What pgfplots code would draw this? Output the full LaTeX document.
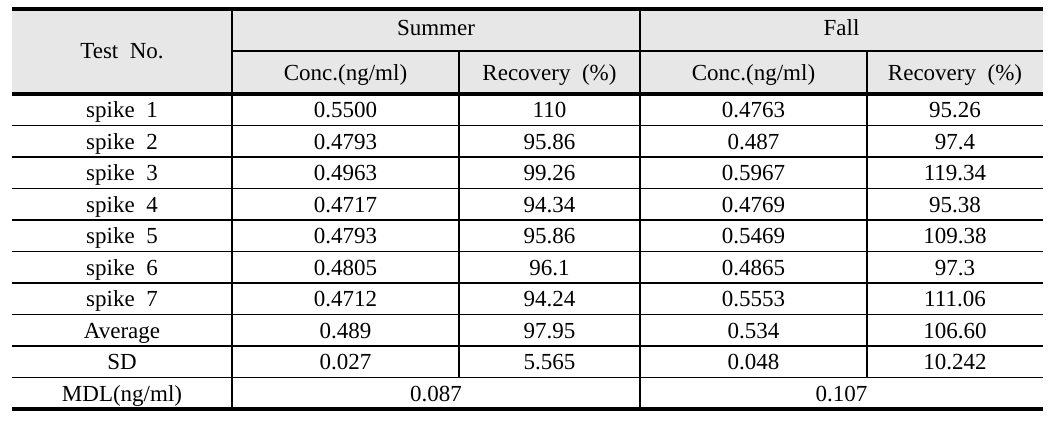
\documentclass[border=0pt]{standalone}
\usepackage{fontspec}
\setmainfont{Liberation Serif}
\usepackage{pgfplots}
\pgfplotsset{compat=1.18}
\definecolor{hdr}{RGB}{231,231,231}
\protected\def\gap{\hspace{0.5em}}
\begin{document}
\begin{tikzpicture}
\begin{axis}[
  x=1pt, y=1pt, y dir=reverse,
  xmin=0, xmax=1060, ymin=0, ymax=423,
  hide axis, clip=false,
  point meta=explicit symbolic,
  nodes near coords,
  every node near coord/.style={anchor=base, font=\fontsize{23}{27}\selectfont, inner sep=0pt, text=black},
]
\path (axis cs:0,0) rectangle (axis cs:1060,423);
% header fill
\fill[hdr] (axis cs:12,9) rectangle (axis cs:1043,94);
% thin lines
\draw[line width=1.2pt] (axis cs:232,51) -- (axis cs:1043,51);
\draw[line width=1.2pt] (axis cs:12,125.5) -- (axis cs:1043,125.5);
\draw[line width=1.2pt] (axis cs:12,157) -- (axis cs:1043,157);
\draw[line width=1.2pt] (axis cs:12,188.5) -- (axis cs:1043,188.5);
\draw[line width=1.2pt] (axis cs:12,220) -- (axis cs:1043,220);
\draw[line width=1.2pt] (axis cs:12,251.5) -- (axis cs:1043,251.5);
\draw[line width=1.2pt] (axis cs:12,283) -- (axis cs:1043,283);
\draw[line width=1.2pt] (axis cs:12,314.5) -- (axis cs:1043,314.5);
\draw[line width=1.2pt] (axis cs:12,346) -- (axis cs:1043,346);
\draw[line width=1.2pt] (axis cs:12,377.5) -- (axis cs:1043,377.5);
\draw[line width=1.2pt] (axis cs:232,9) -- (axis cs:232,409);
\draw[line width=1.2pt] (axis cs:640,9) -- (axis cs:640,409);
\draw[line width=1.2pt] (axis cs:459,51) -- (axis cs:459,377.5);
\draw[line width=1.2pt] (axis cs:867,51) -- (axis cs:867,377.5);
% thick rules
\draw[line width=3.6pt] (axis cs:12,9) -- (axis cs:1043,9);
\draw[line width=3.6pt] (axis cs:12,94) -- (axis cs:1043,94);
\draw[line width=3.6pt] (axis cs:12,409) -- (axis cs:1043,409);

\addplot[draw=none, mark=none] table[x=x, y=y, meta=t] {
x y t
122 58 {Test\gap No.}
436 35.5 Summer
841.5 35.5 Fall
345.5 80 {Conc.(ng/ml)}
549.5 80 {Recovery\gap(\%)}
753.5 80 {Conc.(ng/ml)}
955 80 {Recovery\gap(\%)}
122 117.5 {spike\gap 1}
345.5 117.5 0.5500
549.5 117.5 110
753.5 117.5 0.4763
955 117.5 95.26
122 149 {spike\gap 2}
345.5 149 0.4793
549.5 149 95.86
753.5 149 0.487
955 149 97.4
122 180.5 {spike\gap 3}
345.5 180.5 0.4963
549.5 180.5 99.26
753.5 180.5 0.5967
955 180.5 119.34
122 212 {spike\gap 4}
345.5 212 0.4717
549.5 212 94.34
753.5 212 0.4769
955 212 95.38
122 243.5 {spike\gap 5}
345.5 243.5 0.4793
549.5 243.5 95.86
753.5 243.5 0.5469
955 243.5 109.38
122 275 {spike\gap 6}
345.5 275 0.4805
549.5 275 96.1
753.5 275 0.4865
955 275 97.3
122 306.5 {spike\gap 7}
345.5 306.5 0.4712
549.5 306.5 94.24
753.5 306.5 0.5553
955 306.5 111.06
122 338 Average
345.5 338 0.489
549.5 338 97.95
753.5 338 0.534
955 338 106.60
122 369.5 SD
345.5 369.5 0.027
549.5 369.5 5.565
753.5 369.5 0.048
955 369.5 10.242
122 401 MDL(ng/ml)
436 401 0.087
841.5 401 0.107
};
\end{axis}
\end{tikzpicture}
\end{document}
